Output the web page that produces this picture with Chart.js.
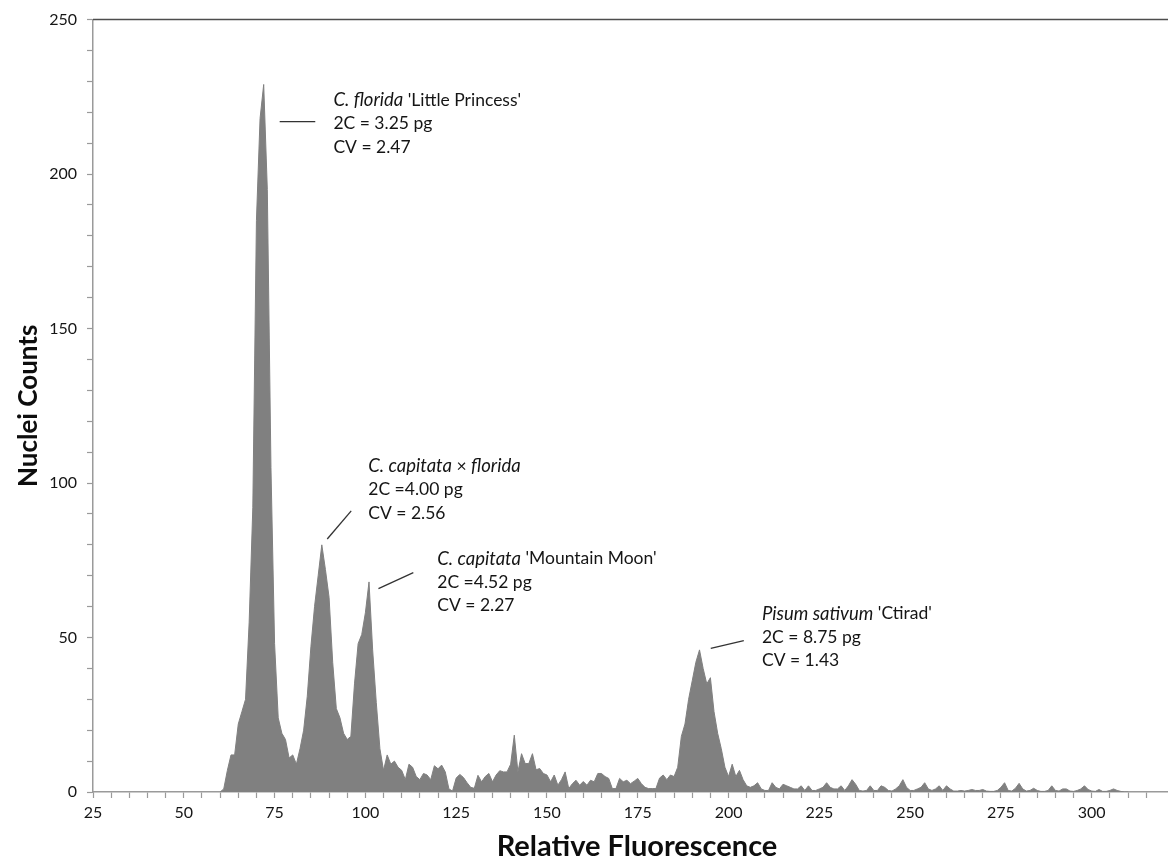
<!DOCTYPE html>
<html>
<head>
<meta charset="utf-8">
<script src="https://cdn.jsdelivr.net/npm/chart.js@4.4.1/dist/chart.umd.min.js"></script>
<style>
  html, body { margin: 0; padding: 0; background: #ffffff; }
  #wrap { width: 1168px; height: 863px; position: relative; }
  canvas { display: block; }
</style>
</head>
<body>
<div id="wrap"><canvas id="chart" width="1168" height="863"></canvas></div>
<script>
// ---------- DATA ----------
const channelStart = 60;            // first channel (Relative Fluorescence) of the counts below
const nucleiCounts = [
  // 60-69
  0, 1, 7, 12, 12, 22, 26, 30, 55, 92,
  // 70-79
  185, 218, 229, 195, 105, 48, 24, 19, 17, 11,
  // 80-89
  12, 9, 14, 20, 31, 47, 60, 70, 80, 72,
  // 90-99
  63, 42, 27, 24, 19, 17, 18, 35, 48, 51,
  // 100-109
  58, 68, 46, 29, 14, 7, 12, 9, 10, 8,
  // 110-119
  7, 4, 9, 8, 5, 4, 6, 5.5, 4, 8.5,
  // 120-129
  7.5, 8.7, 6.5, 1, 0.3, 4.5, 5.7, 4.7, 3, 1.5,
  // 130-139
  1.2, 5.4, 3.3, 5, 6, 3.3, 5.5, 6.9, 6.5, 6.5,
  // 140-149
  9, 18.4, 6.5, 12.4, 9.2, 9.2, 12.4, 7.2, 7.6, 6,
  // 150-159
  5.5, 3.3, 5.5, 2.2, 4, 6.5, 1.1, 2.7, 3.8, 2.2,
  // 160-169
  3.4, 2.2, 3.8, 3.3, 6, 6, 5, 4.4, 1.1, 1.1,
  // 170-179
  4.4, 3.3, 3.8, 2.7, 3.5, 4.4, 2.7, 1.5, 1.1, 1.1,
  // 180-189
  1.1, 4.5, 5.5, 4, 5.5, 5, 8, 18, 22, 30,
  // 190-199
  36, 42, 46, 40, 35, 37, 26, 19, 14, 8,
  // 200-209
  5, 9, 5, 7, 4, 2, 1.5, 2, 3, 1,
  // 210-219
  0.5, 0.5, 3, 1.5, 1, 2.5, 2, 1.5, 1, 1,
  // 220-229
  2, 0.5, 2, 0.5, 0.5, 1, 1.5, 3, 1.5, 1,
  // 230-239
  1, 2, 0.5, 2, 4, 2.5, 0.5, 0.3, 0.5, 2,
  // 240-249
  0.5, 0.5, 2, 1.5, 0.5, 0.3, 1, 2, 4, 1.5,
  // 250-259
  0.5, 0.5, 1, 1.5, 3, 1, 0.5, 1, 2, 0.5,
  // 260-269
  2, 1, 0.3, 0.3, 0.5, 0.3, 0.5, 0.8, 0.5, 0.5,
  // 270-279
  0.8, 0.3, 0.2, 0.2, 0.5, 1.5, 3, 0.5, 0.3, 1.2,
  // 280-289
  2.8, 1, 0.3, 0.5, 1.2, 0.5, 0.2, 0.2, 0.5, 2,
  // 290-299
  0.5, 0.3, 1, 1, 0.3, 0.2, 0.5, 1, 2, 0.8,
  // 300-310
  0.3, 0.2, 0.8, 0.2, 0.2, 0.5, 1, 0.5, 0.2, 0, 0
];
const xTickLabels = [25, 50, 75, 100, 125, 150, 175, 200, 225, 250, 275, 300];
const yTickLabels = [0, 50, 100, 150, 200, 250];
const xAxisTitle = 'Relative Fluorescence';
const yAxisTitle = 'Nuclei Counts';

// Peak annotations: text anchored in data units (x, y of first line), leader line in data units
const peakNotes = [
  { lines: [[['C. florida', 'italic'], [" 'Little Princess'", 'normal']], [['2C = 3.25 pg', 'normal']], [['CV = 2.47', 'normal']]],
    at: [91.2, 224], leader: [[76.4, 217], [86.2, 217]] },
  { lines: [[['C. capitata', 'italic'], [' \u00d7 ', 'normal'], ['florida', 'italic']], [['2C =4.00 pg', 'normal']], [['CV = 2.56', 'normal']]],
    at: [100.8, 105.5], leader: [[89.5, 81.9], [96.1, 91.0]] },
  { lines: [[['C. capitata', 'italic'], [" 'Mountain Moon'", 'normal']], [['2C =4.52 pg', 'normal']], [['CV = 2.27', 'normal']]],
    at: [119.8, 75.5], leader: [[103.6, 65.8], [113.2, 71.0]] },
  { lines: [[['Pisum sativum', 'italic'], [" 'Ctirad'", 'normal']], [['2C = 8.75 pg', 'normal']], [['CV = 1.43', 'normal']]],
    at: [209.2, 57.7], leader: [[195.1, 46.5], [204.2, 49.0]] }
];

// ---------- BUILD ----------
const points = nucleiCounts.map((v, i) => ({ x: channelStart + i, y: v }));

const FONT = 'Lato, "Open Sans", "DejaVu Sans", sans-serif';

const decorPlugin = {
  id: 'decor',
  afterDraw(chart) {
    const { ctx, chartArea, scales } = chart;
    const xs = scales.x, ys = scales.y;
    ctx.save();
    // top frame line
    ctx.strokeStyle = '#4d4d4d';
    ctx.lineWidth = 1.5;
    ctx.beginPath();
    ctx.moveTo(chartArea.left, chartArea.top);
    ctx.lineTo(chartArea.right, chartArea.top);
    ctx.stroke();

    // axis titles
    ctx.fillStyle = '#0d0d0d';
    ctx.font = 'bold 29px ' + FONT;
    ctx.textAlign = 'center';
    ctx.textBaseline = 'middle';
    ctx.fillText(xAxisTitle, 637, 847);
    ctx.save();
    ctx.translate(29, (chartArea.top + chartArea.bottom) / 2);
    ctx.rotate(-Math.PI / 2);
    ctx.font = 'bold 26px ' + FONT;
    ctx.fillText(yAxisTitle, 0, 0);
    ctx.restore();

    // annotations
    peakNotes.forEach(n => {
      ctx.strokeStyle = '#333333';
      ctx.lineWidth = 1.3;
      ctx.beginPath();
      ctx.moveTo(xs.getPixelForValue(n.leader[0][0]), ys.getPixelForValue(n.leader[0][1]));
      ctx.lineTo(xs.getPixelForValue(n.leader[1][0]), ys.getPixelForValue(n.leader[1][1]));
      ctx.stroke();
      const x0 = xs.getPixelForValue(n.at[0]);
      let y = ys.getPixelForValue(n.at[1]);
      ctx.textAlign = 'left';
      ctx.textBaseline = 'middle';
      ctx.fillStyle = '#151515';
      n.lines.forEach(line => {
        let x = x0;
        line.forEach(([txt, style]) => {
          ctx.font = (style === 'italic' ? 'italic 18.5px ' : '17.5px ') + FONT;
          ctx.fillText(txt, x, y);
          x += ctx.measureText(txt).width;
        });
        y += 23.5;
      });
    });
    ctx.restore();
  }
};

new Chart(document.getElementById('chart'), {
  type: 'line',
  data: {
    datasets: [{
      data: points,
      fill: 'origin',
      backgroundColor: '#808080',
      borderColor: '#808080',
      borderWidth: 1,
      pointRadius: 0,
      tension: 0
    }]
  },
  options: {
    responsive: false,
    animation: false,
    devicePixelRatio: 1,
    layout: { padding: { top: 17, right: 0, left: 0, bottom: 0 } },
    plugins: { legend: { display: false }, tooltip: { enabled: false } },
    scales: {
      x: {
        type: 'linear',
        min: 25,
        max: 321,
        afterFit(scale) { scale.height = 71; },
        ticks: {
          stepSize: 5,
          autoSkip: false,
          maxRotation: 0,
          padding: 5,
          color: '#151515',
          font: { family: FONT, size: 16 },
          callback(v) {
            if (xTickLabels.includes(v)) return String(v);
            if (Number.isInteger(v) && v % 5 === 0) return '';
            return null;
          }
        },
        grid: { drawOnChartArea: false, drawTicks: true, tickLength: 6, tickColor: '#9a9a9a', tickWidth: 1.2 },
        border: { display: true, color: '#9a9a9a', width: 1.5 }
      },
      y: {
        min: 0,
        max: 250,
        afterFit(scale) { scale.width = 93; },
        ticks: {
          stepSize: 10,
          autoSkip: false,
          padding: 10,
          color: '#151515',
          font: { family: FONT, size: 16 },
          callback(v) { return yTickLabels.includes(v) ? String(v) : ''; }
        },
        grid: { drawOnChartArea: false, drawTicks: true, tickLength: 6, tickColor: '#9a9a9a', tickWidth: 1.2 },
        border: { display: true, color: '#9a9a9a', width: 1.5 }
      }
    }
  },
  plugins: [decorPlugin]
});
</script>
</body>
</html>
